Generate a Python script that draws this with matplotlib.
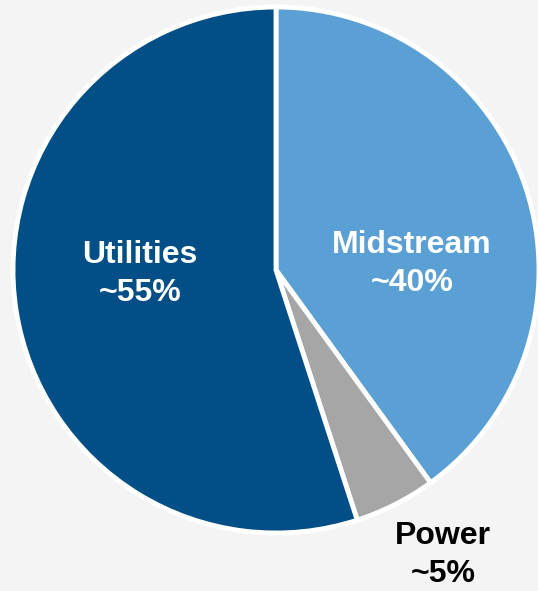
import matplotlib.pyplot as plt

segments = ['Midstream', 'Power', 'Utilities']
shares = [40, 5, 55]
labels = ['Midstream\n~40%', 'Power\n~5%', 'Utilities\n~55%']
colors = ['#5BA0D5', '#A6A6A6', '#014F86']

W, H = 538, 591
fig = plt.figure(figsize=(W / 100, H / 100), dpi=100, facecolor='#F4F4F4')
ax = fig.add_axes([0, 0, 1, 1])
ax.set_facecolor('#F4F4F4')

cx, cy, r = 276, H - 270, 263
ax.pie(shares, colors=colors, startangle=90, counterclock=False,
       center=(cx, cy), radius=r, frame=True,
       wedgeprops=dict(edgecolor='white', linewidth=3.5))
ax.set_xlim(0, W)
ax.set_ylim(0, H)
ax.set_aspect('equal')
ax.axis('off')

font = dict(family=['Liberation Sans', 'DejaVu Sans'], fontweight='bold',
            fontsize=23, ha='center', va='center', linespacing=1.32)
ax.text(412, H - 264, labels[0], color='white', **font)
ax.text(443, H - 555, labels[1], color='black', **font)
ax.text(140, H - 274, labels[2], color='white', **font)

fig.savefig('out.png', dpi=100, facecolor=fig.get_facecolor())
